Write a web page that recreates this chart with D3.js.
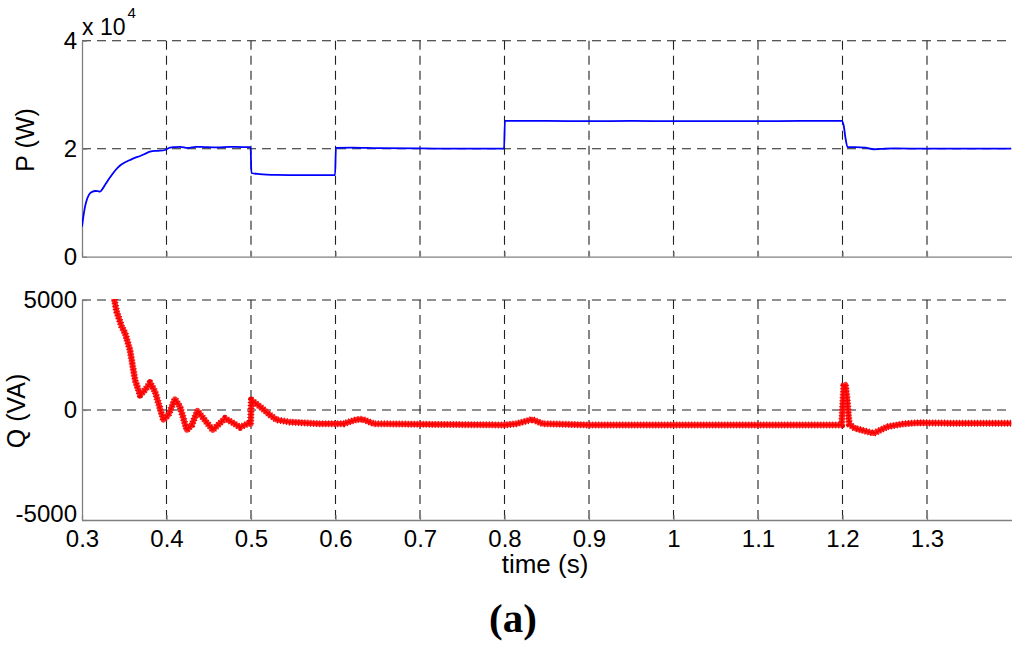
<!DOCTYPE html>
<html>
<head>
<meta charset="utf-8">
<script src="https://cdn.jsdelivr.net/npm/d3@7"></script>
<style>
  html, body { margin: 0; padding: 0; background: #fff; }
  svg { display: block; }
</style>
</head>
<body>
<svg id="chart" width="1024" height="649"></svg>
<script>
// ---- data ----
const xTicks = [0.3, 0.4, 0.5, 0.6, 0.7, 0.8, 0.9, 1.0, 1.1, 1.2, 1.3];
const xTickLabels = ["0.3", "0.4", "0.5", "0.6", "0.7", "0.8", "0.9", "1", "1.1", "1.2", "1.3"];
const pTicks = [0, 20000, 40000];
const pTickLabels = ["0", "2", "4"];
const qTicks = [-5000, 0, 5000];
const qTickLabels = ["-5000", "0", "5000"];

// Active power P (W)
const pTime = [0.300, 0.3018, 0.3036, 0.306, 0.3095, 0.3125, 0.3154, 0.3185, 0.3213, 0.324, 0.3272, 0.331, 0.3352, 0.34, 0.345, 0.3505, 0.3568, 0.3625, 0.3687, 0.3745, 0.3805, 0.3865, 0.3924, 0.3983,
  0.4042, 0.41, 0.416, 0.425, 0.435, 0.445, 0.46, 0.475, 0.49, 0.4995,
  0.5005, 0.51, 0.53, 0.56, 0.59, 0.5995,
  0.6005, 0.62, 0.65, 0.70, 0.75, 0.7995,
  0.8005, 0.85, 0.90, 0.95, 1.0, 1.05, 1.10, 1.15, 1.199,
  1.2015, 1.2035, 1.206, 1.215, 1.227, 1.237, 1.245, 1.26, 1.30, 1.35, 1.40];
const pValue = [5550, 7600, 9260, 10700, 11740, 12050, 12170, 12150, 12040, 12500, 13280, 14200, 15130, 16100, 16900, 17450, 17900, 18300, 18650, 19050, 19440, 19600, 19630, 19760,
  20200, 20300, 20350, 20150, 20350, 20300, 20250, 20350, 20300, 20300,
  15500, 15300, 15150, 15100, 15100, 15100,
  20150, 20200, 20100, 20050, 20000, 20000,
  25150, 25150, 25100, 25150, 25100, 25100, 25100, 25150, 25150,
  24200, 22000, 20300, 20300, 20200, 19900, 19950, 20050, 20000, 20000, 20000];

// Reactive power Q (VA)
const qTime = [0.335, 0.3383, 0.341, 0.347, 0.351, 0.3568, 0.3628, 0.3687, 0.3746, 0.3805, 0.3865,
  0.3963, 0.4022, 0.410, 0.416, 0.424, 0.430, 0.4366, 0.4437, 0.4548, 0.4693, 0.4792, 0.4871, 0.497, 0.4995,
  0.5005, 0.5108, 0.5226, 0.5306, 0.5463, 0.58, 0.61, 0.6253, 0.632, 0.645, 0.70, 0.80, 0.815, 0.8326, 0.845,
  0.9, 1.0, 1.1, 1.199, 1.2015, 1.2035, 1.2055, 1.208, 1.2145, 1.237, 1.253, 1.27, 1.29, 1.33, 1.40];
const qValue = [5400, 5000, 4470, 3790, 3490, 2730, 1360, 680, 910, 1240, 830,
  -450, -230, 500, 150, -910, -680, -30, -380, -910, -380, -600, -790, -600, -650,
  450, 150, -230, -450, -550, -620, -620, -430, -420, -620, -650, -680, -620, -430, -620,
  -680, -680, -680, -680, 1100, 1150, 500, -650, -830, -1060, -760, -640, -580, -600, -600];

// ---- layout ----
const svg = d3.select("#chart");
const left = 82, right = 1011.5;
const topP = 40.7, botP = 256.7;
const topQ = 300, botQ = 520;
const sans = "'Liberation Sans', Arial, sans-serif";

const x = d3.scaleLinear().domain([0.3, 1.4]).range([left, right]);
const yP = d3.scaleLinear().domain([0, 40000]).range([botP, topP]);
const yQ = d3.scaleLinear().domain([-5000, 5000]).range([botQ, topQ]);

const gridColor = "#222";
const axisColor = "#808080";

function drawPanel(y, yTicks, yLabels, gTop, gBot, showXLabels, clipId) {
  const g = svg.append("g");
  svg.append("clipPath").attr("id", clipId)
    .append("rect").attr("x", left).attr("y", gTop - 1)
    .attr("width", right - left).attr("height", gBot - gTop + 2);

  g.selectAll("line.vg").data(xTicks.filter(t => t > 0.35)).enter().append("line")
    .attr("x1", d => x(d)).attr("x2", d => x(d))
    .attr("y1", gTop).attr("y2", gBot)
    .attr("stroke", gridColor).attr("stroke-width", 1.1)
    .attr("stroke-dasharray", "9,6");
  g.selectAll("line.hg").data(yTicks.slice(1)).enter().append("line")
    .attr("x1", left).attr("x2", right)
    .attr("y1", d => y(d)).attr("y2", d => y(d))
    .attr("stroke", gridColor).attr("stroke-width", 1.1)
    .attr("stroke-dasharray", "9,6");

  const xa = d3.axisBottom(x).tickValues(xTicks).tickSizeInner(-5).tickSizeOuter(0)
    .tickPadding(10)
    .tickFormat((d, i) => showXLabels ? xTickLabels[i] : "");
  const gx = svg.append("g").attr("transform", `translate(0,${gBot})`).call(xa);
  gx.select(".domain").attr("stroke", axisColor).attr("stroke-width", 1.3);
  gx.selectAll(".tick line").attr("stroke", axisColor).attr("stroke-width", 1.2);
  gx.selectAll(".tick text").style("font-size", "24px").style("font-family", sans).attr("fill", "#000");

  const ya = d3.axisLeft(y).tickValues(yTicks).tickSizeInner(-5).tickSizeOuter(0)
    .tickPadding(5)
    .tickFormat((d, i) => yLabels[i]);
  const gy = svg.append("g").attr("transform", `translate(${left},0)`).call(ya);
  gy.select(".domain").attr("stroke", axisColor).attr("stroke-width", 1.3);
  gy.selectAll(".tick line").attr("stroke", axisColor).attr("stroke-width", 1.2);
  gy.selectAll(".tick text").style("font-size", "24px").style("font-family", sans).attr("fill", "#000");
  // lowest y label sits slightly higher so it does not collide with the first x label
  gy.selectAll(".tick text").filter(d => d === y.domain()[0] && showXLabels).attr("dy", "0.05em");
  return g;
}

drawPanel(yP, pTicks, pTickLabels, topP, botP, false, "clipP");
drawPanel(yQ, qTicks, qTickLabels, topQ, botQ, true, "clipQ");

// P line
const pData = pTime.map((t, i) => [t, pValue[i]]);
svg.append("path").datum(pData)
  .attr("clip-path", "url(#clipP)")
  .attr("d", d3.line().curve(d3.curveMonotoneX).x(d => x(d[0])).y(d => yP(d[1])))
  .attr("fill", "none").attr("stroke", "#0000ff").attr("stroke-width", 1.8)
  .attr("stroke-linejoin", "round");

// Q line (ripple band)
const qData = qTime.map((t, i) => [t, qValue[i]]);
const qLine = d3.line().x(d => x(d[0])).y(d => yQ(d[1]));
svg.append("path").datum(qData)
  .attr("clip-path", "url(#clipQ)")
  .attr("d", qLine)
  .attr("fill", "none").attr("stroke", "#ff3030").attr("stroke-width", 5.5)
  .attr("stroke-linejoin", "round");
svg.append("path").datum(qData)
  .attr("clip-path", "url(#clipQ)")
  .attr("d", qLine)
  .attr("fill", "none").attr("stroke", "#f00000").attr("stroke-width", 7)
  .attr("stroke-dasharray", "1,2")
  .attr("stroke-linejoin", "round");
svg.append("path").datum(qData)
  .attr("clip-path", "url(#clipQ)")
  .attr("d", qLine)
  .attr("fill", "none").attr("stroke", "#ff0000").attr("stroke-width", 2)
  .attr("stroke-linejoin", "round");

// exponent label "x 10^4"
const ex = svg.append("text").attr("x", left).attr("y", 35)
  .style("font-size", "23px").style("font-family", sans);
ex.append("tspan").text("x 10");
ex.append("tspan").style("font-size", "15px").attr("dy", -17).attr("dx", 2).text("4");

// y labels
svg.append("text").attr("transform", "translate(34,140) rotate(-90)")
  .attr("text-anchor", "middle").style("font-size", "25px").style("font-family", sans).text("P (W)");
svg.append("text").attr("transform", "translate(25,411) rotate(-90)")
  .attr("text-anchor", "middle").style("font-size", "25px").style("font-family", sans).text("Q (VA)");

// x label
svg.append("text").attr("x", 545).attr("y", 573)
  .attr("text-anchor", "middle").style("font-size", "26px").style("font-family", sans).text("time (s)");

// panel label
svg.append("text").attr("x", 513).attr("y", 632)
  .attr("text-anchor", "middle").style("font-size", "41px").style("font-weight", "bold")
  .style("font-family", "'Liberation Serif', 'Times New Roman', serif")
  .text("(a)");
</script>
</body>
</html>
